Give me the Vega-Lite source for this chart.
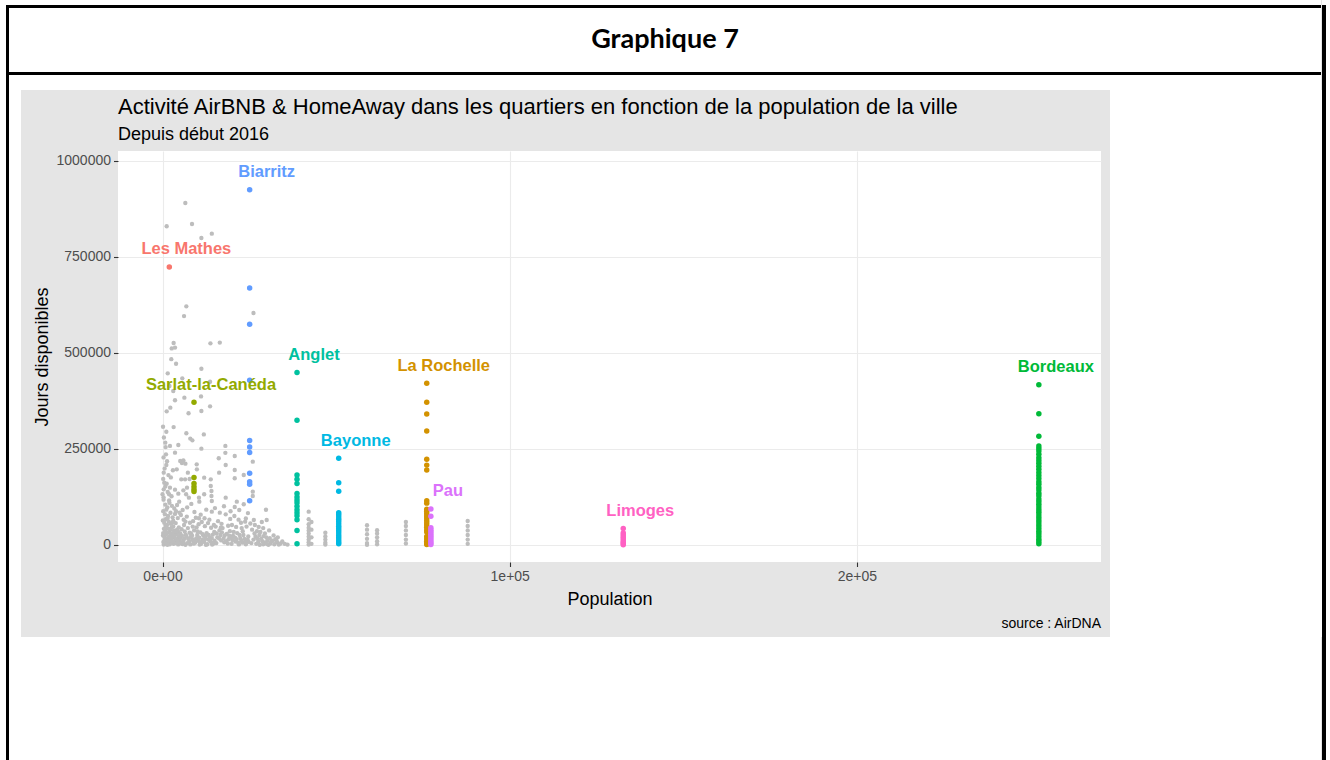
{
"$schema": "https://vega.github.io/schema/vega-lite/v6.json",
"background": "#e5e5e5",
"padding": 0,
"spacing": 0,
"config": {
  "view": {"stroke": null},
  "axis": {"domain": false, "labelFlush": false, "labelOverlap": false, "labelFont": "Liberation Sans", "labelFontSize": 14, "labelColor": "#4d4d4d", "labelPadding": 3, "tickColor": "#333333", "tickSize": 4.5, "tickWidth": 1.1, "titleFont": "Liberation Sans", "titleFontSize": 18, "titleFontWeight": "normal", "titleColor": "black", "gridColor": "#ebebeb", "gridWidth": 1.1},
  "text": {"font": "Liberation Sans"}
},
"hconcat": [
  {"width": 6, "height": 760, "view": {"fill": "white"}, "data": {"values": []}, "mark": "point"},
  {"vconcat": [
    {"width": 3, "height": 5, "view": {"fill": "white"}, "data": {"values": []}, "mark": "point"},
    {"width": 3, "height": 755, "view": {"fill": "black"}, "data": {"values": []}, "mark": "point"}
  ], "spacing": 0},
  {"vconcat": [
    {"width": 1312, "height": 5, "view": {"fill": "white"}, "data": {"values": []}, "mark": "point"},
    {"width": 1312, "height": 3, "view": {"fill": "black"}, "data": {"values": []}, "mark": "point"},
    {"width": 1312, "height": 64, "view": {"fill": "white"}, "data": {"values": [{"t": "Graphique 7"}]},
     "mark": {"type": "text", "font": "Lato", "fontSize": 27, "fontWeight": "bold", "color": "black"},
     "encoding": {"text": {"field": "t", "type": "nominal"}}},
    {"width": 1312, "height": 3, "view": {"fill": "black"}, "data": {"values": []}, "mark": "point"},
    {"width": 1312, "height": 15, "view": {"fill": "white"}, "data": {"values": []}, "mark": "point"},
    {"hconcat": [
      {"width": 12, "height": 547, "view": {"fill": "white"}, "data": {"values": []}, "mark": "point"},
      {"hconcat": [
        {"width": 12, "height": 547, "data": {"values": []}, "mark": "point"},
        {"vconcat": [
          {"width": 1, "height": 6, "data": {"values": []}, "mark": "point"},
          {"width": 983, "height": 411,
           "view": {"fill": "white"},
           "title": {"text": "Activité AirBNB & HomeAway dans les quartiers en fonction de la population de la ville", "subtitle": "Depuis début 2016", "anchor": "start", "frame": "group", "font": "Liberation Sans", "fontSize": 22, "fontWeight": "normal", "color": "black", "subtitleFont": "Liberation Sans", "subtitleFontSize": 18, "subtitleColor": "black", "offset": 6, "subtitlePadding": 7},
           "data": {"values": [
{"pop":6570,"jours":890600,"ville":"autre"},{"pop":1200,"jours":830000,"ville":"autre"},{"pop":8500,"jours":836000,"ville":"autre"},{"pop":11200,"jours":799500,"ville":"autre"},{"pop":14200,"jours":810700,"ville":"autre"},{"pop":26200,"jours":604000,"ville":"autre"},{"pop":6860,"jours":621500,"ville":"autre"},{"pop":6200,"jours":596000,"ville":"autre"},{"pop":3200,"jours":526000,"ville":"autre"},{"pop":2650,"jours":512000,"ville":"autre"},{"pop":3600,"jours":514000,"ville":"autre"},{"pop":13800,"jours":525200,"ville":"autre"},{"pop":16500,"jours":527000,"ville":"autre"},{"pop":2530,"jours":484000,"ville":"autre"},{"pop":3900,"jours":472000,"ville":"autre"},{"pop":11200,"jours":459000,"ville":"autre"},{"pop":1500,"jours":447000,"ville":"autre"},{"pop":13700,"jours":425000,"ville":"autre"},{"pop":2000,"jours":414000,"ville":"autre"},{"pop":5700,"jours":434000,"ville":"autre"},{"pop":3100,"jours":401000,"ville":"autre"},{"pop":6300,"jours":383600,"ville":"autre"},{"pop":11100,"jours":387000,"ville":"autre"},{"pop":3600,"jours":376800,"ville":"autre"},{"pop":7500,"jours":343000,"ville":"autre"},{"pop":2250,"jours":357600,"ville":"autre"},{"pop":1200,"jours":348000,"ville":"autre"},{"pop":11200,"jours":349000,"ville":"autre"},{"pop":13700,"jours":361000,"ville":"autre"},{"pop":150,"jours":308000,"ville":"autre"},{"pop":3200,"jours":307000,"ville":"autre"},{"pop":1100,"jours":295000,"ville":"autre"},{"pop":11900,"jours":288000,"ville":"autre"},{"pop":6860,"jours":291000,"ville":"autre"},{"pop":8000,"jours":277000,"ville":"autre"},{"pop":8600,"jours":272500,"ville":"autre"},{"pop":4550,"jours":260400,"ville":"autre"},{"pop":800,"jours":266400,"ville":"autre"},{"pop":2150,"jours":258000,"ville":"autre"},{"pop":11200,"jours":250800,"ville":"autre"},{"pop":18100,"jours":258000,"ville":"autre"},{"pop":18100,"jours":240000,"ville":"autre"},{"pop":20800,"jours":231800,"ville":"autre"},{"pop":16200,"jours":225800,"ville":"autre"},{"pop":18200,"jours":208300,"ville":"autre"},{"pop":20800,"jours":195300,"ville":"autre"},{"pop":16300,"jours":188300,"ville":"autre"},{"pop":1000,"jours":236000,"ville":"autre"},{"pop":3600,"jours":240400,"ville":"autre"},{"pop":5100,"jours":218800,"ville":"autre"},{"pop":6000,"jours":220500,"ville":"autre"},{"pop":6600,"jours":211700,"ville":"autre"},{"pop":5600,"jours":213500,"ville":"autre"},{"pop":3000,"jours":194500,"ville":"autre"},{"pop":4100,"jours":197000,"ville":"autre"},{"pop":1100,"jours":208300,"ville":"autre"},{"pop":350,"jours":188300,"ville":"autre"},{"pop":9850,"jours":210000,"ville":"autre"},{"pop":9900,"jours":197000,"ville":"autre"},{"pop":7300,"jours":188300,"ville":"autre"},{"pop":5400,"jours":171000,"ville":"autre"},{"pop":6500,"jours":171000,"ville":"autre"},{"pop":7800,"jours":171800,"ville":"autre"},{"pop":12000,"jours":175300,"ville":"autre"},{"pop":13900,"jours":171000,"ville":"autre"},{"pop":20800,"jours":173700,"ville":"autre"},{"pop":23400,"jours":182300,"ville":"autre"},{"pop":26000,"jours":217000,"ville":"autre"},{"pop":26000,"jours":138800,"ville":"autre"},{"pop":26000,"jours":127600,"ville":"autre"},{"pop":23400,"jours":106000,"ville":"autre"},{"pop":21400,"jours":112800,"ville":"autre"},{"pop":20800,"jours":99000,"ville":"autre"},{"pop":18200,"jours":123200,"ville":"autre"},{"pop":13900,"jours":153600,"ville":"autre"},{"pop":14100,"jours":140600,"ville":"autre"},{"pop":14100,"jours":127600,"ville":"autre"},{"pop":12000,"jours":132000,"ville":"autre"},{"pop":10500,"jours":123200,"ville":"autre"},{"pop":10600,"jours":112800,"ville":"autre"},{"pop":14200,"jours":114600,"ville":"autre"},{"pop":14200,"jours":86800,"ville":"autre"},{"pop":16500,"jours":84100,"ville":"autre"},{"pop":18200,"jours":79900,"ville":"autre"},{"pop":20700,"jours":75500,"ville":"autre"},{"pop":23800,"jours":60700,"ville":"autre"},{"pop":26300,"jours":65100,"ville":"autre"},{"pop":29800,"jours":91900,"ville":"autre"},{"pop":30000,"jours":65100,"ville":"autre"},{"pop":10500,"jours":69500,"ville":"autre"},{"pop":12100,"jours":69500,"ville":"autre"},{"pop":6800,"jours":132000,"ville":"autre"},{"pop":4800,"jours":112800,"ville":"autre"},{"pop":2150,"jours":149200,"ville":"autre"},{"pop":3600,"jours":144000,"ville":"autre"},{"pop":6000,"jours":142400,"ville":"autre"},{"pop":7050,"jours":149200,"ville":"autre"},{"pop":7600,"jours":123200,"ville":"autre"},{"pop":4550,"jours":133600,"ville":"autre"},{"pop":1900,"jours":132000,"ville":"autre"},{"pop":0,"jours":132000,"ville":"autre"},{"pop":500,"jours":162200,"ville":"autre"},{"pop":1200,"jours":159600,"ville":"autre"},{"pop":350,"jours":145000,"ville":"autre"},
{"pop":400,"jours":280000,"ville":"autre"},{"pop":900,"jours":255000,"ville":"autre"},{"pop":300,"jours":228000,"ville":"autre"},{"pop":1300,"jours":218000,"ville":"autre"},{"pop":600,"jours":199000,"ville":"autre"},{"pop":1700,"jours":182000,"ville":"autre"},{"pop":200,"jours":172000,"ville":"autre"},{"pop":2400,"jours":176000,"ville":"autre"},{"pop":800,"jours":152000,"ville":"autre"},{"pop":1500,"jours":138000,"ville":"autre"},{"pop":2600,"jours":127000,"ville":"autre"},{"pop":300,"jours":124000,"ville":"autre"},{"pop":1900,"jours":116000,"ville":"autre"},
{"pop":300,"jours":118000,"ville":"autre"},{"pop":800,"jours":105000,"ville":"autre"},{"pop":1400,"jours":98000,"ville":"autre"},{"pop":2000,"jours":110000,"ville":"autre"},{"pop":2700,"jours":102000,"ville":"autre"},{"pop":3400,"jours":95000,"ville":"autre"},{"pop":4200,"jours":104000,"ville":"autre"},{"pop":200,"jours":88000,"ville":"autre"},{"pop":700,"jours":80000,"ville":"autre"},{"pop":1100,"jours":92000,"ville":"autre"},{"pop":1600,"jours":76000,"ville":"autre"},{"pop":2300,"jours":84000,"ville":"autre"},{"pop":2900,"jours":72000,"ville":"autre"},{"pop":3600,"jours":81000,"ville":"autre"},{"pop":4400,"jours":70000,"ville":"autre"},{"pop":100,"jours":64000,"ville":"autre"},{"pop":500,"jours":58000,"ville":"autre"},{"pop":900,"jours":67000,"ville":"autre"},{"pop":1300,"jours":52000,"ville":"autre"},{"pop":1800,"jours":61000,"ville":"autre"},{"pop":2400,"jours":55000,"ville":"autre"},{"pop":3100,"jours":48000,"ville":"autre"},{"pop":3800,"jours":57000,"ville":"autre"},{"pop":4700,"jours":46000,"ville":"autre"},{"pop":400,"jours":42000,"ville":"autre"},{"pop":800,"jours":36000,"ville":"autre"},{"pop":1200,"jours":44000,"ville":"autre"},{"pop":1700,"jours":33000,"ville":"autre"},{"pop":2200,"jours":39000,"ville":"autre"},{"pop":2800,"jours":30000,"ville":"autre"},{"pop":3300,"jours":37000,"ville":"autre"},{"pop":4000,"jours":28000,"ville":"autre"},{"pop":4600,"jours":34000,"ville":"autre"},{"pop":150,"jours":25000,"ville":"autre"},{"pop":600,"jours":20000,"ville":"autre"},{"pop":1000,"jours":27000,"ville":"autre"},{"pop":1500,"jours":17000,"ville":"autre"},{"pop":1900,"jours":22000,"ville":"autre"},{"pop":2500,"jours":14000,"ville":"autre"},{"pop":3000,"jours":19000,"ville":"autre"},{"pop":3700,"jours":11000,"ville":"autre"},{"pop":4300,"jours":16000,"ville":"autre"},{"pop":4900,"jours":9000,"ville":"autre"},{"pop":250,"jours":8000,"ville":"autre"},{"pop":700,"jours":4000,"ville":"autre"},{"pop":1150,"jours":12000,"ville":"autre"},{"pop":1650,"jours":6000,"ville":"autre"},{"pop":2100,"jours":2000,"ville":"autre"},{"pop":2650,"jours":7000,"ville":"autre"},{"pop":3200,"jours":3000,"ville":"autre"},{"pop":3900,"jours":5000,"ville":"autre"},{"pop":4500,"jours":1500,"ville":"autre"},{"pop":350,"jours":1000,"ville":"autre"},{"pop":1400,"jours":500,"ville":"autre"},
{"pop":5300,"jours":78000,"ville":"autre"},{"pop":6100,"jours":66000,"ville":"autre"},{"pop":7000,"jours":74000,"ville":"autre"},{"pop":7900,"jours":58000,"ville":"autre"},{"pop":8800,"jours":62000,"ville":"autre"},{"pop":9600,"jours":71000,"ville":"autre"},{"pop":10400,"jours":54000,"ville":"autre"},{"pop":11300,"jours":60000,"ville":"autre"},{"pop":12200,"jours":49000,"ville":"autre"},{"pop":13100,"jours":57000,"ville":"autre"},{"pop":14000,"jours":45000,"ville":"autre"},{"pop":14800,"jours":52000,"ville":"autre"},{"pop":5500,"jours":41000,"ville":"autre"},{"pop":6400,"jours":35000,"ville":"autre"},{"pop":7300,"jours":44000,"ville":"autre"},{"pop":8200,"jours":30000,"ville":"autre"},{"pop":9100,"jours":38000,"ville":"autre"},{"pop":10000,"jours":26000,"ville":"autre"},{"pop":10900,"jours":33000,"ville":"autre"},{"pop":11800,"jours":24000,"ville":"autre"},{"pop":12700,"jours":31000,"ville":"autre"},{"pop":13600,"jours":20000,"ville":"autre"},{"pop":14500,"jours":27000,"ville":"autre"},{"pop":5200,"jours":18000,"ville":"autre"},{"pop":6000,"jours":12000,"ville":"autre"},{"pop":6900,"jours":22000,"ville":"autre"},{"pop":7700,"jours":9000,"ville":"autre"},{"pop":8600,"jours":15000,"ville":"autre"},{"pop":9400,"jours":6000,"ville":"autre"},{"pop":10300,"jours":11000,"ville":"autre"},{"pop":11100,"jours":3000,"ville":"autre"},{"pop":12000,"jours":8000,"ville":"autre"},{"pop":12900,"jours":2000,"ville":"autre"},{"pop":13800,"jours":10000,"ville":"autre"},{"pop":14700,"jours":4000,"ville":"autre"},{"pop":5700,"jours":2500,"ville":"autre"},{"pop":6600,"jours":500,"ville":"autre"},{"pop":8000,"jours":1500,"ville":"autre"},{"pop":9000,"jours":3500,"ville":"autre"},{"pop":10700,"jours":1000,"ville":"autre"},{"pop":12500,"jours":500,"ville":"autre"},{"pop":14300,"jours":1200,"ville":"autre"},
{"pop":15300,"jours":48000,"ville":"autre"},{"pop":16400,"jours":38000,"ville":"autre"},{"pop":17300,"jours":44000,"ville":"autre"},{"pop":18500,"jours":29000,"ville":"autre"},{"pop":19400,"jours":36000,"ville":"autre"},{"pop":20300,"jours":24000,"ville":"autre"},{"pop":21500,"jours":31000,"ville":"autre"},{"pop":22400,"jours":18000,"ville":"autre"},{"pop":23300,"jours":26000,"ville":"autre"},{"pop":24500,"jours":14000,"ville":"autre"},{"pop":26800,"jours":22000,"ville":"autre"},{"pop":27600,"jours":9000,"ville":"autre"},{"pop":28400,"jours":16000,"ville":"autre"},{"pop":29300,"jours":6000,"ville":"autre"},{"pop":30200,"jours":12000,"ville":"autre"},{"pop":31000,"jours":4000,"ville":"autre"},{"pop":15800,"jours":20000,"ville":"autre"},{"pop":16900,"jours":12000,"ville":"autre"},{"pop":17800,"jours":7000,"ville":"autre"},{"pop":19000,"jours":15000,"ville":"autre"},{"pop":19900,"jours":3000,"ville":"autre"},{"pop":21000,"jours":9000,"ville":"autre"},{"pop":22000,"jours":1500,"ville":"autre"},{"pop":23000,"jours":6000,"ville":"autre"},{"pop":24000,"jours":2000,"ville":"autre"},{"pop":27000,"jours":3000,"ville":"autre"},{"pop":28000,"jours":700,"ville":"autre"},{"pop":29000,"jours":1800,"ville":"autre"},{"pop":30500,"jours":500,"ville":"autre"},{"pop":32000,"jours":25000,"ville":"autre"},{"pop":32500,"jours":15000,"ville":"autre"},{"pop":33000,"jours":7000,"ville":"autre"},{"pop":32200,"jours":2000,"ville":"autre"},{"pop":33500,"jours":1000,"ville":"autre"},{"pop":20000,"jours":52000,"ville":"autre"},{"pop":22800,"jours":44000,"ville":"autre"},{"pop":25800,"jours":40000,"ville":"autre"},{"pop":27200,"jours":36000,"ville":"autre"},{"pop":29500,"jours":30000,"ville":"autre"},{"pop":24200,"jours":48000,"ville":"autre"},
{"pop":600,"jours":14000,"ville":"autre"},{"pop":1300,"jours":9000,"ville":"autre"},{"pop":2000,"jours":16000,"ville":"autre"},{"pop":2600,"jours":24000,"ville":"autre"},{"pop":3500,"jours":21000,"ville":"autre"},{"pop":4100,"jours":6000,"ville":"autre"},{"pop":4800,"jours":23000,"ville":"autre"},{"pop":5100,"jours":30000,"ville":"autre"},{"pop":5900,"jours":8000,"ville":"autre"},{"pop":6700,"jours":27000,"ville":"autre"},{"pop":7400,"jours":16000,"ville":"autre"},{"pop":8100,"jours":21000,"ville":"autre"},{"pop":8900,"jours":9000,"ville":"autre"},{"pop":9700,"jours":17000,"ville":"autre"},{"pop":10600,"jours":19000,"ville":"autre"},{"pop":11500,"jours":13000,"ville":"autre"},{"pop":12300,"jours":23000,"ville":"autre"},{"pop":13200,"jours":14000,"ville":"autre"},{"pop":14100,"jours":6000,"ville":"autre"},{"pop":15000,"jours":11000,"ville":"autre"},{"pop":15600,"jours":30000,"ville":"autre"},{"pop":16700,"jours":26000,"ville":"autre"},{"pop":17600,"jours":18000,"ville":"autre"},{"pop":18300,"jours":10000,"ville":"autre"},{"pop":19200,"jours":24000,"ville":"autre"},{"pop":20100,"jours":13000,"ville":"autre"},{"pop":20900,"jours":19000,"ville":"autre"},{"pop":21800,"jours":6000,"ville":"autre"},{"pop":22700,"jours":11000,"ville":"autre"},{"pop":23600,"jours":16000,"ville":"autre"},{"pop":24800,"jours":8000,"ville":"autre"},{"pop":26200,"jours":14000,"ville":"autre"},{"pop":27900,"jours":26000,"ville":"autre"},{"pop":28800,"jours":10000,"ville":"autre"},{"pop":29900,"jours":20000,"ville":"autre"},{"pop":31300,"jours":9000,"ville":"autre"},{"pop":32800,"jours":12000,"ville":"autre"},{"pop":34000,"jours":4000,"ville":"autre"},{"pop":16000,"jours":62000,"ville":"autre"},{"pop":17000,"jours":55000,"ville":"autre"},{"pop":19500,"jours":68000,"ville":"autre"},{"pop":21200,"jours":47000,"ville":"autre"},{"pop":22600,"jours":58000,"ville":"autre"},{"pop":25300,"jours":56000,"ville":"autre"},{"pop":27700,"jours":47000,"ville":"autre"},{"pop":28600,"jours":60000,"ville":"autre"},{"pop":30700,"jours":38000,"ville":"autre"},{"pop":12600,"jours":92000,"ville":"autre"},{"pop":15100,"jours":96000,"ville":"autre"},{"pop":17700,"jours":101000,"ville":"autre"},{"pop":19600,"jours":88000,"ville":"autre"},{"pop":22100,"jours":91000,"ville":"autre"},{"pop":24600,"jours":83000,"ville":"autre"},{"pop":9200,"jours":86000,"ville":"autre"},{"pop":7100,"jours":98000,"ville":"autre"},{"pop":5800,"jours":91000,"ville":"autre"},{"pop":8300,"jours":107000,"ville":"autre"},{"pop":4900,"jours":84000,"ville":"autre"},{"pop":3100,"jours":63000,"ville":"autre"},{"pop":2600,"jours":45000,"ville":"autre"},{"pop":3500,"jours":27000,"ville":"autre"},{"pop":900,"jours":50000,"ville":"autre"},{"pop":1800,"jours":42000,"ville":"autre"},{"pop":4200,"jours":40000,"ville":"autre"},
{"pop":200,"jours":31000,"ville":"autre"},{"pop":1000,"jours":3000,"ville":"autre"},{"pop":1800,"jours":11000,"ville":"autre"},{"pop":2300,"jours":29000,"ville":"autre"},{"pop":3000,"jours":8500,"ville":"autre"},{"pop":3600,"jours":35000,"ville":"autre"},{"pop":4400,"jours":12500,"ville":"autre"},{"pop":5000,"jours":4500,"ville":"autre"},{"pop":5600,"jours":24000,"ville":"autre"},{"pop":6300,"jours":17000,"ville":"autre"},{"pop":7100,"jours":5000,"ville":"autre"},{"pop":7800,"jours":32000,"ville":"autre"},{"pop":8500,"jours":25000,"ville":"autre"},{"pop":9300,"jours":12000,"ville":"autre"},{"pop":10100,"jours":35000,"ville":"autre"},{"pop":10800,"jours":7000,"ville":"autre"},{"pop":11600,"jours":28000,"ville":"autre"},{"pop":12400,"jours":16000,"ville":"autre"},{"pop":13300,"jours":26000,"ville":"autre"},{"pop":14200,"jours":18000,"ville":"autre"},{"pop":14900,"jours":34000,"ville":"autre"},{"pop":15500,"jours":5000,"ville":"autre"},{"pop":16300,"jours":17000,"ville":"autre"},{"pop":17100,"jours":33000,"ville":"autre"},{"pop":17900,"jours":25000,"ville":"autre"},{"pop":18800,"jours":4000,"ville":"autre"},{"pop":19700,"jours":19000,"ville":"autre"},{"pop":20500,"jours":34000,"ville":"autre"},{"pop":21300,"jours":15000,"ville":"autre"},{"pop":22200,"jours":26000,"ville":"autre"},{"pop":23100,"jours":36000,"ville":"autre"},{"pop":23900,"jours":10000,"ville":"autre"},{"pop":24700,"jours":22000,"ville":"autre"},{"pop":25600,"jours":5000,"ville":"autre"},{"pop":26500,"jours":30000,"ville":"autre"},{"pop":27300,"jours":17000,"ville":"autre"},{"pop":28200,"jours":34000,"ville":"autre"},{"pop":29100,"jours":23000,"ville":"autre"},{"pop":30000,"jours":3000,"ville":"autre"},{"pop":30900,"jours":18000,"ville":"autre"},{"pop":31700,"jours":11000,"ville":"autre"},{"pop":33200,"jours":20000,"ville":"autre"},{"pop":34500,"jours":9000,"ville":"autre"},{"pop":35200,"jours":3000,"ville":"autre"},{"pop":36000,"jours":1000,"ville":"autre"},{"pop":2800,"jours":58000,"ville":"autre"},{"pop":6200,"jours":52000,"ville":"autre"},{"pop":9800,"jours":46000,"ville":"autre"},{"pop":13500,"jours":66000,"ville":"autre"},{"pop":18900,"jours":50000,"ville":"autre"},{"pop":24000,"jours":69000,"ville":"autre"},{"pop":26600,"jours":52000,"ville":"autre"},{"pop":11000,"jours":79000,"ville":"autre"},{"pop":6600,"jours":61000,"ville":"autre"},{"pop":1500,"jours":70000,"ville":"autre"},{"pop":3900,"jours":88000,"ville":"autre"},{"pop":8700,"jours":48000,"ville":"autre"},{"pop":16800,"jours":45000,"ville":"autre"},{"pop":21900,"jours":66000,"ville":"autre"},{"pop":29000,"jours":44000,"ville":"autre"},
{"pop":42100,"jours":86700,"ville":"autre"},{"pop":42100,"jours":67000,"ville":"autre"},{"pop":42100,"jours":54000,"ville":"autre"},{"pop":42100,"jours":45000,"ville":"autre"},{"pop":42100,"jours":38000,"ville":"autre"},{"pop":42100,"jours":30000,"ville":"autre"},{"pop":42100,"jours":22000,"ville":"autre"},{"pop":42100,"jours":14000,"ville":"autre"},{"pop":42100,"jours":7000,"ville":"autre"},{"pop":42100,"jours":1000,"ville":"autre"},{"pop":42900,"jours":60000,"ville":"autre"},{"pop":42900,"jours":40000,"ville":"autre"},{"pop":42900,"jours":20000,"ville":"autre"},{"pop":42900,"jours":3000,"ville":"autre"},{"pop":46900,"jours":32000,"ville":"autre"},{"pop":46900,"jours":22000,"ville":"autre"},{"pop":46900,"jours":14000,"ville":"autre"},{"pop":46900,"jours":6000,"ville":"autre"},{"pop":46900,"jours":1000,"ville":"autre"},{"pop":58900,"jours":51300,"ville":"autre"},{"pop":58900,"jours":40000,"ville":"autre"},{"pop":58900,"jours":28000,"ville":"autre"},{"pop":58900,"jours":16000,"ville":"autre"},{"pop":58900,"jours":5000,"ville":"autre"},{"pop":58900,"jours":500,"ville":"autre"},{"pop":61800,"jours":38300,"ville":"autre"},{"pop":61800,"jours":30000,"ville":"autre"},{"pop":61800,"jours":20000,"ville":"autre"},{"pop":61800,"jours":10000,"ville":"autre"},{"pop":61800,"jours":2000,"ville":"autre"},{"pop":70100,"jours":60000,"ville":"autre"},{"pop":70100,"jours":49500,"ville":"autre"},{"pop":70100,"jours":38000,"ville":"autre"},{"pop":70100,"jours":26000,"ville":"autre"},{"pop":70100,"jours":14000,"ville":"autre"},{"pop":70100,"jours":4000,"ville":"autre"},{"pop":87900,"jours":62500,"ville":"autre"},{"pop":87900,"jours":49500,"ville":"autre"},{"pop":87900,"jours":38000,"ville":"autre"},{"pop":87900,"jours":26000,"ville":"autre"},{"pop":87900,"jours":14000,"ville":"autre"},{"pop":87900,"jours":3000,"ville":"autre"},
{"pop":1960,"jours":724000,"ville":"Les Mathes"},
{"pop":25100,"jours":925000,"ville":"Biarritz"},{"pop":25100,"jours":669000,"ville":"Biarritz"},{"pop":25100,"jours":575000,"ville":"Biarritz"},{"pop":25100,"jours":429000,"ville":"Biarritz"},{"pop":25100,"jours":272000,"ville":"Biarritz"},{"pop":25100,"jours":255000,"ville":"Biarritz"},{"pop":25100,"jours":241000,"ville":"Biarritz"},{"pop":25100,"jours":187000,"ville":"Biarritz"},{"pop":25100,"jours":165000,"ville":"Biarritz"},{"pop":25100,"jours":158000,"ville":"Biarritz"},{"pop":25100,"jours":115000,"ville":"Biarritz"},
{"pop":9070,"jours":372000,"ville":"Sarlat-la-Canéda"},{"pop":9070,"jours":176000,"ville":"Sarlat-la-Canéda"},{"pop":9070,"jours":160000,"ville":"Sarlat-la-Canéda"},{"pop":9070,"jours":152000,"ville":"Sarlat-la-Canéda"},{"pop":9070,"jours":145000,"ville":"Sarlat-la-Canéda"},{"pop":9070,"jours":139000,"ville":"Sarlat-la-Canéda"},
{"pop":38740,"jours":449000,"ville":"Anglet"},{"pop":38740,"jours":325000,"ville":"Anglet"},{"pop":38740,"jours":182000,"ville":"Anglet"},{"pop":38740,"jours":171000,"ville":"Anglet"},{"pop":38740,"jours":160000,"ville":"Anglet"},{"pop":38740,"jours":134000,"ville":"Anglet"},{"pop":38740,"jours":125000,"ville":"Anglet"},{"pop":38740,"jours":117000,"ville":"Anglet"},{"pop":38740,"jours":110000,"ville":"Anglet"},{"pop":38740,"jours":101000,"ville":"Anglet"},{"pop":38740,"jours":92000,"ville":"Anglet"},{"pop":38740,"jours":84000,"ville":"Anglet"},{"pop":38740,"jours":76000,"ville":"Anglet"},{"pop":38740,"jours":66000,"ville":"Anglet"},{"pop":38740,"jours":38000,"ville":"Anglet"},{"pop":38740,"jours":3000,"ville":"Anglet"},
{"pop":50750,"jours":226000,"ville":"Bayonne"},{"pop":50750,"jours":162000,"ville":"Bayonne"},{"pop":50750,"jours":140000,"ville":"Bayonne"},{"pop":50750,"jours":84000,"ville":"Bayonne"},{"pop":50750,"jours":79000,"ville":"Bayonne"},{"pop":50750,"jours":73000,"ville":"Bayonne"},{"pop":50750,"jours":67000,"ville":"Bayonne"},{"pop":50750,"jours":61000,"ville":"Bayonne"},{"pop":50750,"jours":55000,"ville":"Bayonne"},{"pop":50750,"jours":49000,"ville":"Bayonne"},{"pop":50750,"jours":43000,"ville":"Bayonne"},{"pop":50750,"jours":37000,"ville":"Bayonne"},{"pop":50750,"jours":31000,"ville":"Bayonne"},{"pop":50750,"jours":25000,"ville":"Bayonne"},{"pop":50750,"jours":19000,"ville":"Bayonne"},{"pop":50750,"jours":13000,"ville":"Bayonne"},{"pop":50750,"jours":8000,"ville":"Bayonne"},{"pop":50750,"jours":3000,"ville":"Bayonne"},
{"pop":76100,"jours":421000,"ville":"La Rochelle"},{"pop":76100,"jours":372000,"ville":"La Rochelle"},{"pop":76100,"jours":341000,"ville":"La Rochelle"},{"pop":76100,"jours":297000,"ville":"La Rochelle"},{"pop":76100,"jours":223000,"ville":"La Rochelle"},{"pop":76100,"jours":208000,"ville":"La Rochelle"},{"pop":76100,"jours":195000,"ville":"La Rochelle"},{"pop":76100,"jours":115000,"ville":"La Rochelle"},{"pop":76100,"jours":109000,"ville":"La Rochelle"},{"pop":76100,"jours":93000,"ville":"La Rochelle"},{"pop":76100,"jours":88000,"ville":"La Rochelle"},{"pop":76100,"jours":82000,"ville":"La Rochelle"},{"pop":76100,"jours":76000,"ville":"La Rochelle"},{"pop":76100,"jours":70000,"ville":"La Rochelle"},{"pop":76100,"jours":64000,"ville":"La Rochelle"},{"pop":76100,"jours":58000,"ville":"La Rochelle"},{"pop":76100,"jours":52000,"ville":"La Rochelle"},{"pop":76100,"jours":46000,"ville":"La Rochelle"},{"pop":76100,"jours":40000,"ville":"La Rochelle"},{"pop":76100,"jours":34000,"ville":"La Rochelle"},{"pop":76100,"jours":22000,"ville":"La Rochelle"},{"pop":76100,"jours":16000,"ville":"La Rochelle"},{"pop":76100,"jours":10000,"ville":"La Rochelle"},{"pop":76100,"jours":5000,"ville":"La Rochelle"},{"pop":76100,"jours":1000,"ville":"La Rochelle"},
{"pop":77300,"jours":94000,"ville":"Pau"},{"pop":77300,"jours":75000,"ville":"Pau"},{"pop":77300,"jours":45000,"ville":"Pau"},{"pop":77300,"jours":40000,"ville":"Pau"},{"pop":77300,"jours":35000,"ville":"Pau"},{"pop":77300,"jours":30000,"ville":"Pau"},{"pop":77300,"jours":25000,"ville":"Pau"},{"pop":77300,"jours":20000,"ville":"Pau"},{"pop":77300,"jours":15000,"ville":"Pau"},{"pop":77300,"jours":10000,"ville":"Pau"},{"pop":77300,"jours":5000,"ville":"Pau"},{"pop":77300,"jours":1000,"ville":"Pau"},
{"pop":132700,"jours":43000,"ville":"Limoges"},{"pop":132700,"jours":31000,"ville":"Limoges"},{"pop":132700,"jours":26000,"ville":"Limoges"},{"pop":132700,"jours":21000,"ville":"Limoges"},{"pop":132700,"jours":16000,"ville":"Limoges"},{"pop":132700,"jours":11000,"ville":"Limoges"},{"pop":132700,"jours":7000,"ville":"Limoges"},{"pop":132700,"jours":3000,"ville":"Limoges"},{"pop":132700,"jours":500,"ville":"Limoges"},
{"pop":252400,"jours":417000,"ville":"Bordeaux"},{"pop":252400,"jours":342000,"ville":"Bordeaux"},{"pop":252400,"jours":283000,"ville":"Bordeaux"},{"pop":252400,"jours":258000,"ville":"Bordeaux"},{"pop":252400,"jours":251000,"ville":"Bordeaux"},{"pop":252400,"jours":245000,"ville":"Bordeaux"},{"pop":252400,"jours":236000,"ville":"Bordeaux"},{"pop":252400,"jours":227000,"ville":"Bordeaux"},{"pop":252400,"jours":220000,"ville":"Bordeaux"},{"pop":252400,"jours":213000,"ville":"Bordeaux"},{"pop":252400,"jours":205000,"ville":"Bordeaux"},{"pop":252400,"jours":197000,"ville":"Bordeaux"},{"pop":252400,"jours":189000,"ville":"Bordeaux"},{"pop":252400,"jours":181000,"ville":"Bordeaux"},{"pop":252400,"jours":173000,"ville":"Bordeaux"},{"pop":252400,"jours":165000,"ville":"Bordeaux"},{"pop":252400,"jours":158000,"ville":"Bordeaux"},{"pop":252400,"jours":150000,"ville":"Bordeaux"},{"pop":252400,"jours":143000,"ville":"Bordeaux"},{"pop":252400,"jours":135000,"ville":"Bordeaux"},{"pop":252400,"jours":128000,"ville":"Bordeaux"},{"pop":252400,"jours":120000,"ville":"Bordeaux"},{"pop":252400,"jours":113000,"ville":"Bordeaux"},{"pop":252400,"jours":106000,"ville":"Bordeaux"},{"pop":252400,"jours":99000,"ville":"Bordeaux"},{"pop":252400,"jours":92000,"ville":"Bordeaux"},{"pop":252400,"jours":85000,"ville":"Bordeaux"},{"pop":252400,"jours":78000,"ville":"Bordeaux"},{"pop":252400,"jours":71000,"ville":"Bordeaux"},{"pop":252400,"jours":64000,"ville":"Bordeaux"},{"pop":252400,"jours":57000,"ville":"Bordeaux"},{"pop":252400,"jours":50000,"ville":"Bordeaux"},{"pop":252400,"jours":43000,"ville":"Bordeaux"},{"pop":252400,"jours":36000,"ville":"Bordeaux"},{"pop":252400,"jours":29000,"ville":"Bordeaux"},{"pop":252400,"jours":22000,"ville":"Bordeaux"},{"pop":252400,"jours":15000,"ville":"Bordeaux"},{"pop":252400,"jours":9000,"ville":"Bordeaux"},{"pop":252400,"jours":3000,"ville":"Bordeaux"}
           ]},
           "encoding": {
             "x": {"field": "pop", "type": "quantitative", "scale": {"domain": [-12820, 270300], "nice": false, "zero": false},
                   "axis": {"values": [0, 100000, 200000], "labelExpr": "datum.value == 0 ? '0e+00' : format(datum.value / 100000, 'd') + 'e+05'", "title": "Population", "titlePadding": 7, "grid": true}},
             "y": {"field": "jours", "type": "quantitative", "scale": {"domain": [-44300, 1026000], "nice": false, "zero": false},
                   "axis": {"values": [0, 250000, 500000, 750000, 1000000], "format": "d", "title": "Jours disponibles", "titlePadding": 4, "grid": true}}
           },
           "layer": [
             {"transform": [{"filter": "datum.ville == 'autre'"}],
              "mark": {"type": "circle", "size": 19, "color": "#bdbdbd", "opacity": 1}},
             {"transform": [{"filter": "datum.ville != 'autre'"}],
              "mark": {"type": "circle", "size": 30, "opacity": 1},
              "encoding": {"color": {"field": "ville", "type": "nominal", "legend": null,
                "scale": {"domain": ["Les Mathes", "Biarritz", "Sarlat-la-Canéda", "Anglet", "Bayonne", "La Rochelle", "Pau", "Limoges", "Bordeaux"],
                          "range": ["#F8766D", "#619CFF", "#93AA00", "#00C19F", "#00B9E3", "#D39200", "#DB72FB", "#FF61C3", "#00BA38"]}}}},
             {"transform": [{"filter": "datum.ville != 'autre'"}, {"aggregate": [{"op": "max", "field": "jours", "as": "jours"}], "groupby": ["ville", "pop"]}],
              "mark": {"type": "text", "dx": 17, "dy": -17.5, "font": "Liberation Sans", "fontWeight": "bold", "fontSize": 16.5, "align": "center", "baseline": "middle"},
              "encoding": {"text": {"field": "ville", "type": "nominal"},
                "color": {"field": "ville", "type": "nominal", "legend": null,
                "scale": {"domain": ["Les Mathes", "Biarritz", "Sarlat-la-Canéda", "Anglet", "Bayonne", "La Rochelle", "Pau", "Limoges", "Bordeaux"],
                          "range": ["#F8766D", "#619CFF", "#93AA00", "#00C19F", "#00B9E3", "#D39200", "#DB72FB", "#FF61C3", "#00BA38"]}}}}
           ]},
          {"width": 983, "height": 25,
           "title": {"text": "source : AirDNA", "orient": "bottom", "anchor": "end", "frame": "group", "offset": -6, "baseline": "alphabetic", "font": "Liberation Sans", "fontSize": 14, "fontWeight": "normal", "color": "black"},
           "data": {"values": []}, "mark": "point"}
        ], "spacing": 0},
        {"width": 9, "height": 547, "data": {"values": []}, "mark": "point"}
      ], "spacing": 0},
      {"width": 212, "height": 547, "view": {"fill": "white"}, "data": {"values": []}, "mark": "point"}
    ], "spacing": 0},
    {"width": 1312, "height": 123, "view": {"fill": "white"}, "data": {"values": []}, "mark": "point"}
  ], "spacing": 0},
  {"vconcat": [
    {"width": 4, "height": 5, "view": {"fill": "white"}, "data": {"values": []}, "mark": "point"},
    {"width": 4, "height": 755, "view": {"fill": "black"}, "data": {"values": []}, "mark": "point"}
  ], "spacing": 0},
  {"width": 5, "height": 760, "view": {"fill": "white"}, "data": {"values": []}, "mark": "point"}
]
}
